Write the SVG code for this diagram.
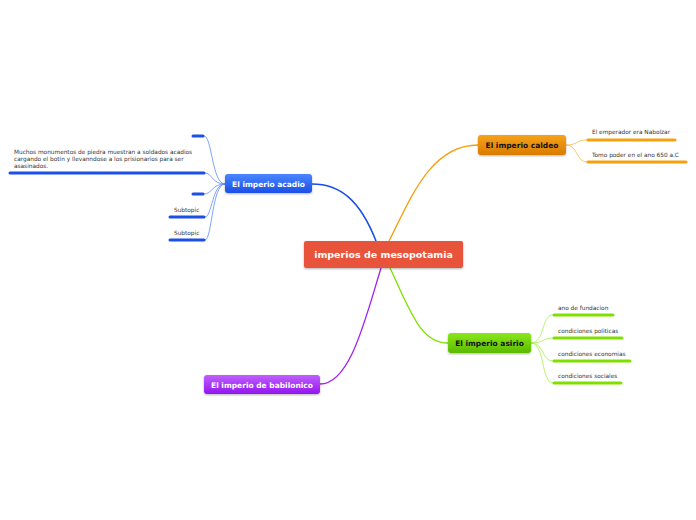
<svg xmlns="http://www.w3.org/2000/svg" width="696" height="520" viewBox="0 0 696 520">
<defs>
<linearGradient id="gBlue" x1="0" y1="0" x2="0" y2="1"><stop offset="0" stop-color="#4a86ff"/><stop offset="1" stop-color="#1a4fe8"/></linearGradient>
<linearGradient id="gOrange" x1="0" y1="0" x2="0" y2="1"><stop offset="0" stop-color="#f7a21a"/><stop offset="1" stop-color="#d87c00"/></linearGradient>
<linearGradient id="gGreen" x1="0" y1="0" x2="0" y2="1"><stop offset="0" stop-color="#8ae81a"/><stop offset="1" stop-color="#5cba00"/></linearGradient>
<linearGradient id="gPurple" x1="0" y1="0" x2="0" y2="1"><stop offset="0" stop-color="#c060ff"/><stop offset="1" stop-color="#9414ee"/></linearGradient>
<filter id="sh" x="-10%" y="-20%" width="120%" height="150%"><feDropShadow dx="0" dy="1" stdDeviation="1" flood-color="#000" flood-opacity="0.3"/></filter>
</defs>
<style>
text{font-family:"DejaVu Sans","Noto Sans",sans-serif;}
.main{font-size:9.5px;font-weight:bold;fill:#fff;}
.topic{font-size:7.5px;font-weight:bold;}
.sub{font-size:5.8px;fill:#333;}
.cb{fill:none;stroke:#1a4fe8;stroke-width:1.6;}
.cbt{fill:none;stroke:#5b8cff;stroke-width:0.8;}
.ub{stroke:#1a4fe8;stroke-width:3;stroke-linecap:round;}
.co{fill:none;stroke:#f5a00f;stroke-width:1.3;}
.cot{fill:none;stroke:#f9b84a;stroke-width:0.8;}
.uo{stroke:#f5a00f;stroke-width:3;stroke-linecap:round;}
.cg{fill:none;stroke:#7fe000;stroke-width:1.3;}
.cgt{fill:none;stroke:#a8ee50;stroke-width:0.8;}
.ug{stroke:#7fe000;stroke-width:3;stroke-linecap:round;}
.cp{fill:none;stroke:#a020f0;stroke-width:1.3;}
</style>
<g id="connectors">
<path class="cb" d="M376,241 C360,200 340,184 312,184"/>
<path class="co" d="M389,241 C410,200 430,145 478,145"/>
<path class="cg" d="M390,268 C410,310 420,343 448,343"/>
<path class="cp" d="M381,268 C365,320 350,384 320,384"/>
<path class="cbt" d="M225,184 C212,184 212,136 204,136"/>
<path class="cbt" d="M225,184 C212,184 212,173 205,173"/>
<path class="cbt" d="M225,184 C212,184 212,194 204,194"/>
<path class="cbt" d="M225,184 C212,184 212,217 205,217"/>
<path class="cbt" d="M225,184 C212,184 212,240 205,240"/>
<path class="cot" d="M566,145 C578,145 576,140 587,140"/>
<path class="cot" d="M566,145 C578,145 576,162 587,162"/>
<path class="cgt" d="M531,343 C545,343 541,315 553,315"/>
<path class="cgt" d="M531,343 C545,343 541,338 553,338"/>
<path class="cgt" d="M531,343 C545,343 541,361 553,361"/>
<path class="cgt" d="M531,343 C545,343 541,383 553,383"/>
</g>
<g id="central">
<rect x="304" y="241" width="159" height="27" rx="2" fill="#e8533a" filter="url(#sh)"/>
<text class="main" x="383.5" y="258" text-anchor="middle">imperios de mesopotamia</text>
</g>
<g id="acadio">
<rect x="225" y="174" width="87" height="19" rx="3" fill="url(#gBlue)" filter="url(#sh)"/>
<text class="topic" x="268.5" y="186.5" text-anchor="middle" fill="#fff">El imperio acadio</text>
</g>
<g id="acadio-1"><line class="ub" x1="193" y1="136" x2="203" y2="136"/></g>
<g id="acadio-2">
<text class="sub" x="14" y="154">Muchos monumentos de piedra muestran a soldados acadios</text>
<text class="sub" x="14" y="161">cargando el botin y llevanndose a los prisionarios para ser</text>
<text class="sub" x="14" y="168">asasinados.</text>
<line class="ub" x1="10" y1="173" x2="204" y2="173"/>
</g>
<g id="acadio-3"><line class="ub" x1="193" y1="194" x2="203" y2="194"/></g>
<g id="acadio-4"><text class="sub" x="174" y="212">Subtopic</text><line class="ub" x1="170" y1="217" x2="204" y2="217"/></g>
<g id="acadio-5"><text class="sub" x="174" y="235">Subtopic</text><line class="ub" x1="170" y1="240" x2="204" y2="240"/></g>
<g id="caldeo">
<rect x="478" y="135" width="88" height="20" rx="3" fill="url(#gOrange)" filter="url(#sh)"/>
<text class="topic" x="522" y="148" text-anchor="middle" fill="#111">El imperio caldeo</text>
</g>
<g id="caldeo-1"><text class="sub" x="592" y="134">El emperador era Nabolzar</text><line class="uo" x1="588" y1="140" x2="675" y2="140"/></g>
<g id="caldeo-2"><text class="sub" x="592" y="157">Tomo poder en el ano 650 a.C</text><line class="uo" x1="588" y1="162" x2="686" y2="162"/></g>
<g id="asirio">
<rect x="448" y="333" width="83" height="20" rx="3" fill="url(#gGreen)" filter="url(#sh)"/>
<text class="topic" x="489.5" y="346" text-anchor="middle" fill="#111">El imperio asirio</text>
</g>
<g id="asirio-1"><text class="sub" x="558" y="310">ano de fundacion</text><line class="ug" x1="554" y1="315" x2="613" y2="315"/></g>
<g id="asirio-2"><text class="sub" x="558" y="333">condiciones politicas</text><line class="ug" x1="554" y1="338" x2="622" y2="338"/></g>
<g id="asirio-3"><text class="sub" x="558" y="356">condiciones economias</text><line class="ug" x1="554" y1="361" x2="630" y2="361"/></g>
<g id="asirio-4"><text class="sub" x="558" y="378">condiciones sociales</text><line class="ug" x1="554" y1="383" x2="621" y2="383"/></g>
<g id="babilonico">
<rect x="204" y="375" width="116" height="19" rx="3" fill="url(#gPurple)" filter="url(#sh)"/>
<text class="topic" x="262" y="387.5" text-anchor="middle" fill="#fff">El imperio de babilonico</text>
</g>
</svg>
